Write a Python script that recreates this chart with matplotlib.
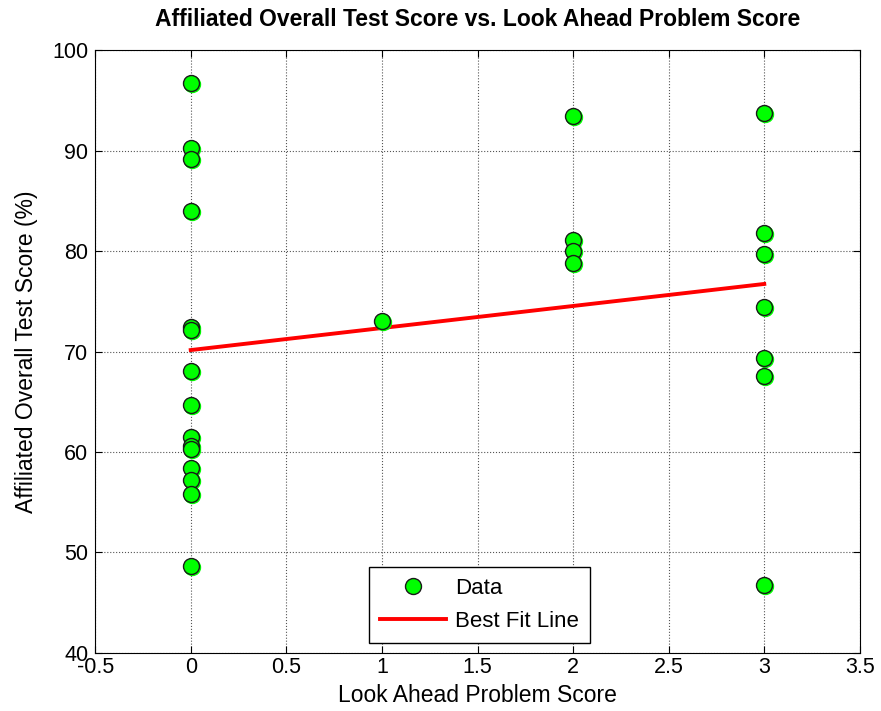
import numpy as np
import matplotlib
matplotlib.use("Agg")
import matplotlib.pyplot as plt
import matplotlib.transforms as mtransforms

plt.rcParams['font.family'] = ['Liberation Sans', 'DejaVu Sans']

x_scores = [0]*15 + [1] + [2]*4 + [3]*7
y_scores = [96.7, 90.3, 89.2, 84.0, 72.4, 72.1, 68.1, 64.7, 61.5, 60.6, 60.3, 58.4, 57.2, 55.8, 48.7,
            73.0,
            93.4, 81.1, 80.0, 78.8,
            93.7, 81.8, 79.7, 74.4, 69.4, 67.6, 46.8]
x_ticks = [-0.5, 0, 0.5, 1, 1.5, 2, 2.5, 3, 3.5]
x_tick_labels = ['-0.5', '0', '0.5', '1', '1.5', '2', '2.5', '3', '3.5']
y_ticks = [40, 50, 60, 70, 80, 90, 100]

x = np.array(x_scores, dtype=float)
y = np.array(y_scores, dtype=float)
slope, intercept = np.polyfit(x, y, 1)
xf = np.linspace(x.min(), x.max(), 50)
yf = slope * xf + intercept

fig = plt.figure(figsize=(8.81, 7.11), dpi=100)
ax = fig.add_axes([0.108, 0.0816, 0.868, 0.848])

shadow = mtransforms.offset_copy(ax.transData, fig=fig, x=1.0, y=-1.0, units='dots')
ax.plot(x, y, 'o', color='#00ff00', markeredgecolor='#00ff00', markeredgewidth=1.0,
        markersize=11.5, transform=shadow, zorder=3)
ax.plot(x, y, 'o', color='#00ff00', markeredgecolor='#1a1a1a', markeredgewidth=1.0,
        markersize=11.5, label='Data', zorder=4)
ax.plot(xf, yf, '-', color='#ff0000', linewidth=2.8, label='Best Fit Line', zorder=2)

ax.set_xlim(-0.5, 3.5)
ax.set_ylim(40, 100)
ax.set_xticks(x_ticks)
ax.set_xticklabels(x_tick_labels)
ax.set_yticks(y_ticks)
ax.tick_params(direction='in', top=True, right=True, labelsize=15.5, length=5)
ax.tick_params(axis='x', pad=3)
ax.tick_params(axis='y', pad=5)
ax.grid(True, linestyle=':', color='#555555', linewidth=0.8)
for s in ax.spines.values():
    s.set_linewidth(0.8)

ax.set_title('Affiliated Overall Test Score vs. Look Ahead Problem Score',
             fontsize=16.5, fontweight='bold', pad=17)
ax.set_xlabel('Look Ahead Problem Score', fontsize=16.5, labelpad=4)
ax.set_ylabel('Affiliated Overall Test Score (%)', fontsize=16.5, labelpad=10)

leg = ax.legend(loc='lower center', bbox_to_anchor=(0.5026, 0.0166), borderaxespad=0,
                fontsize=16, fancybox=False, edgecolor='black', framealpha=1,
                borderpad=0.5, handlelength=3.0, handletextpad=0.4, numpoints=1,
                labelspacing=0.55)
leg.get_frame().set_linewidth(1.0)

fig.savefig('out.png', dpi=100)
